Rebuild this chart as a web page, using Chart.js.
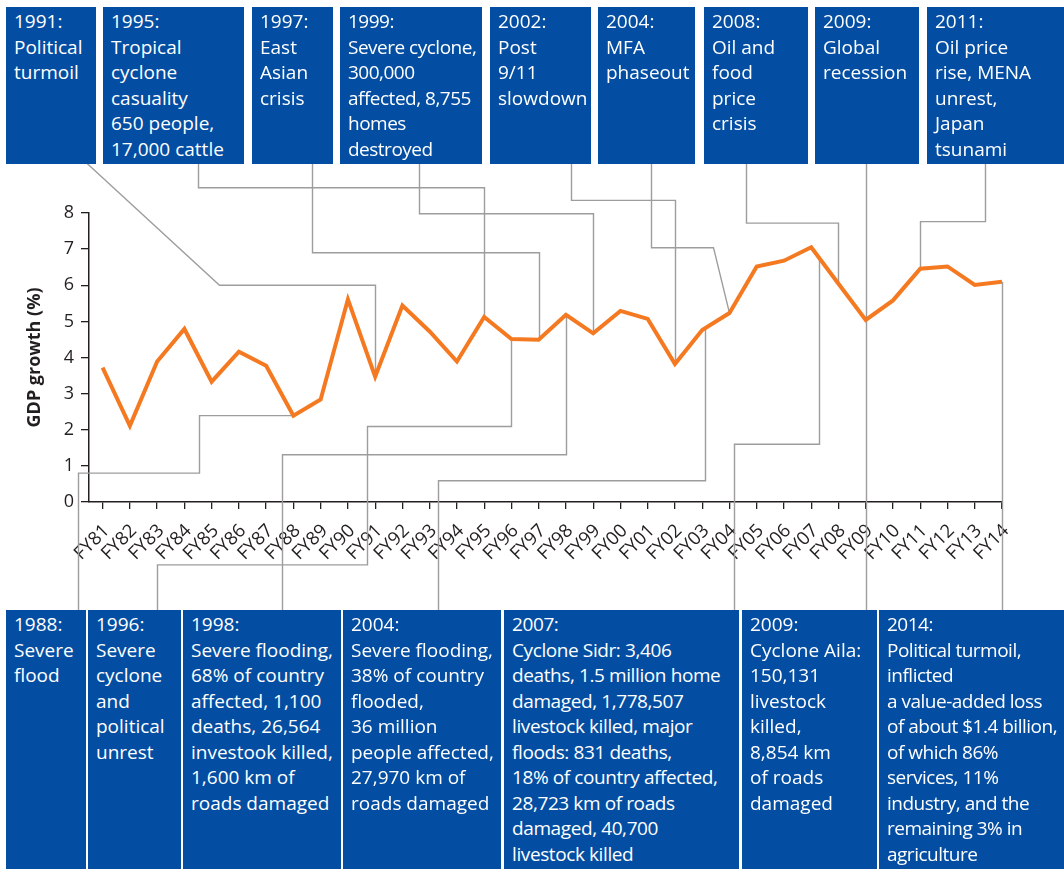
<!DOCTYPE html>
<html>
<head>
<meta charset="utf-8">
<script src="https://cdn.jsdelivr.net/npm/chart.js@4.4.1/dist/chart.umd.min.js"></script>
<style>
  body { margin: 0; background: #fff; }
  #wrap { position: relative; width: 1064px; height: 869px; overflow: hidden; }
  #wrap canvas { position: absolute; left: 0; top: 0; }
  .box {
    position: absolute;
    background: #034ea2;
    color: #fff;
    font-family: 'Open Sans', sans-serif;
    font-size: 19px;
    line-height: 25.5px;
    padding: 2px 0 0 8px;
    box-sizing: border-box;
    white-space: pre;
    overflow: hidden;
  }
</style>
</head>
<body>
<div id="wrap">
  <canvas id="gdpChart" width="1064" height="869"></canvas>
</div>
<script>
// fiscal years and GDP growth (%)
const years = ['FY81', 'FY82', 'FY83', 'FY84', 'FY85', 'FY86', 'FY87', 'FY88', 'FY89', 'FY90',
  'FY91', 'FY92', 'FY93', 'FY94', 'FY95', 'FY96', 'FY97', 'FY98', 'FY99', 'FY00',
  'FY01', 'FY02', 'FY03', 'FY04', 'FY05', 'FY06', 'FY07', 'FY08', 'FY09', 'FY10',
  'FY11', 'FY12', 'FY13', 'FY14'];
const gdpGrowth = [3.72, 2.11, 3.89, 4.79, 3.33, 4.16, 3.77, 2.39, 2.84, 5.61,
  3.47, 5.44, 4.72, 3.89, 5.12, 4.51, 4.49, 5.18, 4.67, 5.29,
  5.07, 3.82, 4.76, 5.23, 6.52, 6.68, 7.05, 6.04, 5.04, 5.58,
  6.46, 6.52, 6.01, 6.10];
const yTicks = [0, 1, 2, 3, 4, 5, 6, 7, 8];

// event notes above and below the chart
const topEvents = [
  '1991:\nPolitical\nturmoil',
  '1995:\nTropical\ncyclone\ncasuality\n650 people,\n17,000 cattle',
  '1997:\nEast\nAsian\ncrisis',
  '1999:\nSevere cyclone,\n300,000\naffected, 8,755\nhomes\ndestroyed',
  '2002:\nPost\n9/11\nslowdown',
  '2004:\nMFA\nphaseout',
  '2008:\nOil and\nfood\nprice\ncrisis',
  '2009:\nGlobal\nrecession',
  '2011:\nOil price\nrise, MENA\nunrest,\nJapan\ntsunami'
];
const bottomEvents = [
  '1988:\nSevere\nflood',
  '1996:\nSevere\ncyclone\nand\npolitical\nunrest',
  '1998:\nSevere flooding,\n68% of country\naffected, 1,100\ndeaths, 26,564\ninvestook killed,\n1,600 km of\nroads damaged',
  '2004:\nSevere flooding,\n38% of country\nflooded,\n36 million\npeople affected,\n27,970 km of\nroads damaged',
  '2007:\nCyclone Sidr: 3,406\ndeaths, 1.5 million home\ndamaged, 1,778,507\nlivestock killed, major\nfloods: 831 deaths,\n18% of country affected,\n28,723 km of roads\ndamaged, 40,700\nlivestock killed',
  '2009:\nCyclone Aila:\n150,131\nlivestock\nkilled,\n8,854 km\nof roads\ndamaged',
  '2014:\nPolitical turmoil,\ninflicted\na value-added loss\nof about $1.4 billion,\nof which 86%\nservices, 11%\nindustry, and the\nremaining 3% in\nagriculture'
];

// box layout (left, right in px)
const topBoxTop = 7, topBoxBottom = 164;
const topBoxX = [[6, 96], [103, 244], [252, 333], [340, 482], [490, 591], [598, 695], [704, 808], [815, 919], [927, 1064]];
const topSpacing = [0, 0, 0, -0.5, 0, 0, 0, 0, 0];
const bottomBoxTop = 610, bottomBoxBottom = 869;
const bottomBoxX = [[6, 86], [88, 181], [183, 341], [343, 501], [504, 739], [742, 877], [879, 1064]];
const bottomSpacing = [0, 0, 0, 0, -0.4, 0, -0.5];

// leader lines: [year index, value] ; 'top'/'bottom' = box edge, 'line' = on the series
const leaders = [
  [[-0.65, 'top'], [4.27, 6.0], [10, 6.0], [10, 'line']],
  [[3.51, 'top'], [3.51, 8.7], [14, 8.7], [14, 'line']],
  [[7.70, 'top'], [7.70, 6.9], [16, 6.9], [16, 'line']],
  [[11.6, 'top'], [11.6, 7.98], [18, 7.98], [18, 'line']],
  [[17.17, 'top'], [17.17, 8.35], [21, 8.35], [21, 'line']],
  [[20.12, 'top'], [20.12, 7.04], [22.39, 7.04], [23, 'line']],
  [[23.61, 'top'], [23.61, 7.72], [27, 7.72], [27, 'line']],
  [[28, 'top'], [28, 'bottom']],
  [[32.36, 'top'], [32.36, 7.76], [30, 7.76], [30, 'line']],
  [[-0.91, 'bottom'], [-0.91, 0.8], [3.52, 0.8], [3.52, 2.39], [7, 2.39]],
  [[2.0, 'bottom'], [2.0, -1.74], [9.7, -1.74], [9.7, 2.09], [15, 2.09], [15, 'line']],
  [[6.57, 'bottom'], [6.57, 1.31], [17, 1.31], [17, 'line']],
  [[12.31, 'bottom'], [12.31, 0.59], [22.12, 0.59], [22.12, 'line']],
  [[23.15, 'bottom'], [23.15, 1.6], [26.27, 1.6], [26.27, 'line']],
  [[33, 'bottom'], [33, 'line']]
];

function valueAt(i) {
  const a = Math.floor(i), b = Math.ceil(i);
  if (a === b) return gdpGrowth[a];
  return gdpGrowth[a] + (gdpGrowth[b] - gdpGrowth[a]) * (i - a);
}

const leaderPlugin = {
  id: 'leaders',
  beforeDatasetsDraw(chart) {
    const { ctx, scales: { x, y } } = chart;
    ctx.save();
    ctx.strokeStyle = '#9d9d9d';
    ctx.lineWidth = 1.4;
    leaders.forEach(route => {
      ctx.beginPath();
      route.forEach(([i, v], k) => {
        let py;
        if (v === 'top') py = topBoxBottom - 2;
        else if (v === 'bottom') py = bottomBoxTop + 2;
        else if (v === 'line') py = y.getPixelForValue(valueAt(i));
        else py = y.getPixelForValue(v);
        const px = Math.round(x.getPixelForValue(i)) + 0.5;
        if (k === 0) ctx.moveTo(px, py); else ctx.lineTo(px, py);
      });
      ctx.stroke();
    });
    ctx.restore();
  }
};

Chart.defaults.font.family = "'Open Sans', sans-serif";
Chart.defaults.color = '#231f20';

new Chart(document.getElementById('gdpChart'), {
  type: 'line',
  data: {
    datasets: [{
      data: gdpGrowth.map((v, i) => ({ x: i, y: v })),
      borderColor: '#f47920',
      borderWidth: 4,
      pointRadius: 0,
      tension: 0,
      fill: false,
      borderJoinStyle: 'miter'
    }]
  },
  options: {
    responsive: false,
    animation: false,
    layout: { padding: { top: 213, right: 62, left: 0, bottom: 0 } },
    plugins: { legend: { display: false }, tooltip: { enabled: false } },
    scales: {
      x: {
        type: 'linear',
        min: -0.5,
        max: years.length - 1,
        afterBuildTicks: s => { s.ticks = years.map((_, i) => ({ value: i })); },
        afterFit: s => { s.height = 367; },
        ticks: {
          callback: v => years[v],
          autoSkip: false,
          minRotation: 45,
          maxRotation: 45,
          padding: 11,
          labelOffset: 4,
          font: { size: 18.5 }
        },
        grid: { drawOnChartArea: false, tickLength: 7, color: '#231f20', lineWidth: 1.3 },
        border: { color: '#231f20', width: 1.5 }
      },
      y: {
        min: 0,
        max: 8,
        afterBuildTicks: s => { s.ticks = yTicks.map(v => ({ value: v })); },
        afterFit: s => { s.width = 89; },
        ticks: { padding: 7, font: { size: 18 } },
        grid: { drawOnChartArea: false, tickLength: 8, color: '#231f20', lineWidth: 1.3 },
        border: { color: '#231f20', width: 1.5 },
        title: {
          display: true,
          text: 'GDP growth (%)',
          font: { size: 18, weight: 'bold' },
          padding: { top: 24 }
        }
      }
    }
  },
  plugins: [leaderPlugin]
});

// note boxes
const wrap = document.getElementById('wrap');
function addBox(text, left, right, top, bottom, spacing) {
  const d = document.createElement('div');
  d.className = 'box';
  d.textContent = text;
  d.style.left = left + 'px';
  d.style.width = (right - left) + 'px';
  d.style.top = top + 'px';
  d.style.height = (bottom - top) + 'px';
  if (spacing) d.style.letterSpacing = spacing + 'px';
  wrap.appendChild(d);
}
topEvents.forEach((t, i) => addBox(t, topBoxX[i][0], topBoxX[i][1], topBoxTop, topBoxBottom, topSpacing[i]));
bottomEvents.forEach((t, i) => addBox(t, bottomBoxX[i][0], bottomBoxX[i][1], bottomBoxTop, bottomBoxBottom, bottomSpacing[i]));
</script>
</body>
</html>
